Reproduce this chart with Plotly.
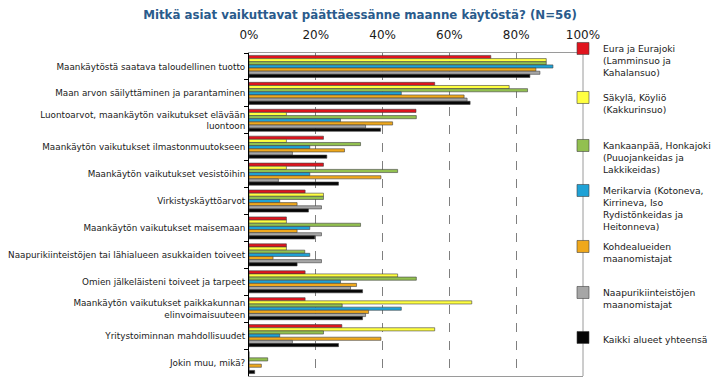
import plotly.graph_objects as go

categories = [
    "Maankäytöstä saatava taloudellinen tuotto",
    "Maan arvon säilyttäminen ja parantaminen",
    "Luontoarvot, maankäytön vaikutukset elävään<br>luontoon",
    "Maankäytön vaikutukset ilmastonmuutokseen",
    "Maankäytön vaikutukset vesistöihin",
    "Virkistyskäyttöarvot",
    "Maankäytön vaikutukset maisemaan",
    "Naapurikiinteistöjen tai lähialueen asukkaiden toiveet",
    "Omien jälkeläisteni toiveet ja tarpeet",
    "Maankäytön vaikutukset paikkakunnan<br>elinvoimaisuuteen",
    "Yritystoiminnan mahdollisuudet",
    "Jokin muu, mikä?",
]

series_names = [
    "Eura ja Eurajoki<br>(Lamminsuo ja<br>Kahalansuo)",
    "Säkylä, Köyliö<br>(Kakkurinsuo)",
    "Kankaanpää, Honkajoki<br>(Puuojankeidas ja<br>Lakkikeidas)",
    "Merikarvia (Kotoneva,<br>Kirrineva, Iso<br>Rydistönkeidas ja<br>Heitonneva)",
    "Kohdealueiden<br>maanomistajat",
    "Naapurikiinteistöjen<br>maanomistajat",
    "Kaikki alueet yhteensä",
]

eura = [72.4, 55.6, 50.0, 22.3, 22.3, 16.8, 11.2, 11.2, 16.8, 16.8, 27.8, 0]
sakyla = [89.0, 77.9, 11.2, 11.2, 11.2, 22.3, 11.2, 11.2, 44.5, 66.7, 55.6, 0]
kankaanpaa = [89.0, 83.4, 50.1, 33.4, 44.5, 22.3, 33.4, 16.7, 50.1, 27.9, 22.3, 5.6]
merikarvia = [91.0, 45.6, 27.4, 18.2, 18.2, 9.2, 18.2, 18.2, 27.4, 45.6, 9.2, 0]
kohde = [85.9, 64.4, 43.0, 28.6, 39.5, 14.4, 14.4, 7.2, 32.2, 35.8, 39.5, 3.7]
naapuri = [87.1, 65.3, 34.9, 13.0, 8.8, 21.7, 21.7, 21.7, 30.4, 34.9, 13.0, 0]
kaikki = [84.1, 66.2, 39.4, 23.3, 26.8, 17.8, 19.7, 14.4, 34.0, 34.0, 26.8, 1.7]

series_values = [eura, sakyla, kankaanpaa, merikarvia, kohde, naapuri, kaikki]
colors = ["#E0141E", "#FFFF40", "#92C050", "#1FA2D6", "#EFA81C", "#A6A6A6", "#050505"]
tick_vals = [0, 20, 40, 60, 80, 100]
tick_text = ["0%", "20%", "40%", "60%", "80%", "100%"]

# page body has an 8px margin; figure coords = screen coords - 8
OFF = 8
W, H = 720 - OFF, 381 - OFF
# legend first-line screen-pixel centres (layout only)
legend_px = [48, 97, 145, 190, 246, 292, 337]

fig = go.Figure()
legend_ids = ["legend"] + [f"legend{i}" for i in range(2, 8)]
for name, vals, col, lid in zip(series_names, series_values, colors, legend_ids):
    fig.add_trace(go.Bar(
        y=categories, x=vals, name=name, orientation="h",
        marker=dict(color=col, line=dict(color="#404040", width=0.6)),
        legend=lid, showlegend=True,
    ))

layout_legends = {}
for lid, py in zip(legend_ids, legend_px):
    top = py - 12 - OFF
    layout_legends[lid] = dict(
        xref="container", yref="container",
        x=(563 - OFF) / W, xanchor="left",
        y=1 - top / H, yanchor="top",
        valign="top", bgcolor="rgba(0,0,0,0)",
        font=dict(family="DejaVu Sans", size=9.2, color="#1a1a1a"),
        itemwidth=30, visible=True,
    )

fig.update_layout(
    width=W, height=H, showlegend=True,
    margin=dict(l=249 - OFF, r=W - (583 - OFF), t=53 - OFF, b=H - (376 - OFF), autoexpand=False),
    paper_bgcolor="white", plot_bgcolor="white",
    barmode="group", bargap=0.18, bargroupgap=0,
    title=dict(
        text="<b>Mitkä asiat vaikuttavat päättäessänne maanne käytöstä? (N=56)</b>",
        x=(360 - OFF) / W, xanchor="center", y=1 - (15 - OFF) / H, yanchor="middle",
        font=dict(family="DejaVu Sans", size=11.8, color="#2A5B8C"),
    ),
    font=dict(family="DejaVu Sans", color="#1a1a1a"),
    xaxis=dict(
        side="top", range=[0, 100], tickvals=tick_vals, ticktext=tick_text,
        showgrid=True, gridcolor="#7f7f7f", griddash="dash", gridwidth=0.8,
        tickfont=dict(family="DejaVu Sans", size=12, color="#1a1a1a"),
        showline=True, linecolor="#9a9a9a", linewidth=1, mirror=True,
        ticks="", zeroline=False, ticklabelstandoff=8,
    ),
    yaxis=dict(
        autorange="reversed", showline=True, linecolor="#000", linewidth=1,
        ticks="outside", ticklen=4, tickcolor="#000", tickson="boundaries",
        tickfont=dict(family="DejaVu Sans", size=8.8, color="#1a1a1a"),
        ticklabelstandoff=1,
        showgrid=False, zeroline=False,
    ),
    shapes=[dict(type="line", xref="paper", yref="paper", x0=1, x1=1, y0=0, y1=1,
                 line=dict(color="#9a9a9a", width=1))],
    **layout_legends,
)

fig.write_html("out.html")
